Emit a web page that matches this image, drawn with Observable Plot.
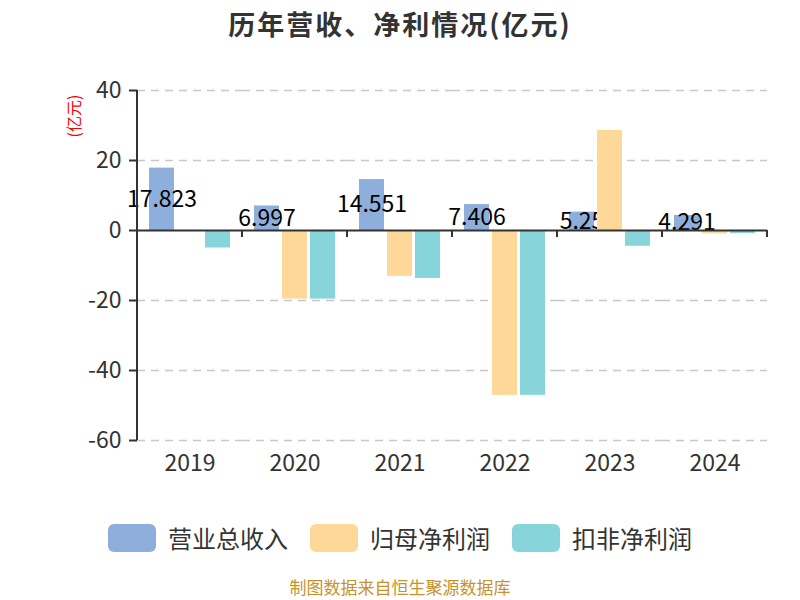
<!DOCTYPE html>
<html>
<head>
<meta charset="utf-8">
<script src="https://cdn.jsdelivr.net/npm/d3@7"></script>
<script src="https://cdn.jsdelivr.net/npm/@observablehq/plot@0.6"></script>
<style>
  html, body { margin: 0; padding: 0; background: #fff; }
  #wrap { position: relative; width: 800px; height: 600px; font-family: "Noto Sans CJK SC", "Noto Sans", sans-serif; overflow: hidden; }
  #chart { position: absolute; left: 0; top: 0; }
  .title { position: absolute; left: 0; width: 800px; top: 4px; text-align: center; font-size: 27px; font-weight: bold; color: #333; letter-spacing: 2px; }
  .unit { position: absolute; left: 73px; top: 116px; transform: translate(-50%, -50%) rotate(-90deg); font-size: 16px; color: #ff0000; white-space: nowrap; }
  .legend { position: absolute; top: 520px; left: 0; width: 800px; display: flex; justify-content: center; gap: 22px; }
  .item { display: flex; align-items: center; font-size: 24px; color: #333; }
  .sw { width: 48px; height: 28px; border-radius: 6px; margin-right: 12px; }
  .caption { position: absolute; top: 578px; left: 0; width: 800px; text-align: center; font-size: 17px; line-height: 18px; color: #c8922a; }
</style>
</head>
<body>
<div id="wrap">
  <div id="chart"></div>
  <div class="title">历年营收、净利情况(亿元)</div>
  <div class="unit">(亿元)</div>
  <div class="legend" id="legend"></div>
  <div class="caption">制图数据来自恒生聚源数据库</div>
</div>
<script>
const years = ["2019", "2020", "2021", "2022", "2023", "2024"];
const seriesNames = ["营业总收入", "归母净利润", "扣非净利润"];
const revenue = [17.823, 6.997, 14.551, 7.406, 5.25, 4.291];
const netProfit = [0, -19.6, -13.1, -47.1, 28.6, -0.95];
const deductedProfit = [-5.0, -19.6, -13.7, -47.1, -4.5, -0.9];
const revenueLabels = ["17.823", "6.997", "14.551", "7.406", "5.25", "4.291"];
const colors = ["#8eaedb", "#fed898", "#87d5da"];
const yTicks = [-60, -40, -20, 0, 20, 40];

const seriesValues = [revenue, netProfit, deductedProfit];
const data = years.flatMap((yr, i) => seriesNames.map((s, j) => ({year: yr, series: s, value: seriesValues[j][i], label: j === 0 ? revenueLabels[i] : ""})));
const revData = data.filter(d => d.series === seriesNames[0]);
const netData = data.filter(d => d.series === seriesNames[1]);
const dedData = data.filter(d => d.series === seriesNames[2]);

const font = '"Noto Sans CJK SC", "Noto Sans", sans-serif';

const chart = Plot.plot({
  width: 800,
  height: 600,
  marginLeft: 135,
  marginRight: 32,
  marginTop: 90,
  marginBottom: 160,
  style: {fontFamily: font, background: "transparent", overflow: "visible"},
  fx: {domain: years, paddingInner: 0, paddingOuter: 0},
  x: {domain: seriesNames, paddingInner: 0.09, paddingOuter: 0.36, axis: null},
  y: {domain: [-60, 40]},
  color: {domain: seriesNames, range: colors},
  marks: [
    Plot.gridY(yTicks.filter(t => t !== 0), {stroke: "#c8c8c8", strokeOpacity: 1, strokeWidth: 1.5, strokeDasharray: "8,6"}),
    Plot.barY(revData, {fx: "year", x: "series", y: "value", fill: "series"}),
    Plot.text(revData, {fx: "year", x: "series", y: d => d.value / 2, text: "label", fontSize: 23, fill: "#000"}),
    Plot.barY(netData, {fx: "year", x: "series", y: "value", fill: "series"}),
    Plot.barY(dedData, {fx: "year", x: "series", y: "value", fill: "series"}),
    Plot.ruleY([0], {stroke: "#333", strokeWidth: 2}),
    Plot.axisY({ticks: yTicks, tickFormat: d => String(d), tickSize: 8, tickPadding: 8, fontSize: 23, color: "#333", label: null, strokeWidth: 2}),
    Plot.axisFx({anchor: "bottom", tickSize: 0, tickPadding: 14, fontSize: 23, color: "#333", label: null})
  ]
});
document.getElementById("chart").appendChild(chart);

// axis line and category boundary ticks from the library's scales
const fx = chart.scale("fx");
const ys = chart.scale("y");
const svg = d3.select(chart);
const y0 = ys.apply(0);
const left = fx.apply(years[0]);
svg.append("line")
  .attr("x1", left).attr("x2", left)
  .attr("y1", ys.apply(40)).attr("y2", ys.apply(-60))
  .attr("stroke", "#333").attr("stroke-width", 2);
const bounds = years.slice(1).map(y => fx.apply(y)).concat([fx.apply(years[years.length - 1]) + fx.bandwidth]);
svg.append("g").selectAll("line").data(bounds).join("line")
  .attr("x1", d => d).attr("x2", d => d)
  .attr("y1", y0).attr("y2", y0 + 7)
  .attr("stroke", "#333").attr("stroke-width", 2);

const legend = document.getElementById("legend");
seriesNames.forEach((s, i) => {
  const item = document.createElement("div");
  item.className = "item";
  const sw = document.createElement("div");
  sw.className = "sw";
  sw.style.background = colors[i];
  item.appendChild(sw);
  item.appendChild(document.createTextNode(s));
  legend.appendChild(item);
});
</script>
</body>
</html>
